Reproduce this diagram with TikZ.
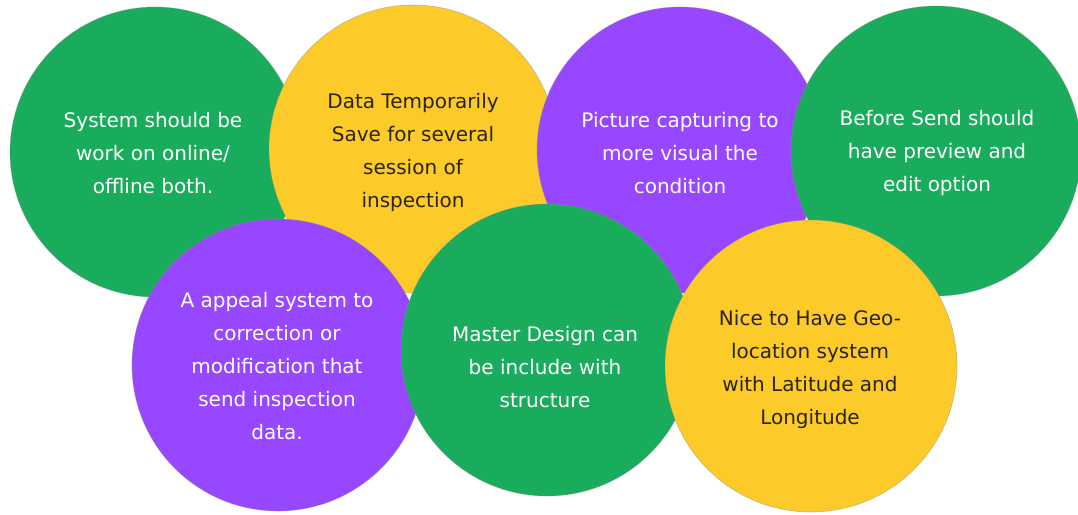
\documentclass[tikz,border=0pt]{standalone}
\usepackage{fontspec}
\setmainfont{DejaVu Sans}
\definecolor{cgreen}{HTML}{18AC5C}
\definecolor{cyellow}{HTML}{FDCB29}
\definecolor{cpurple}{HTML}{9747FF}
\definecolor{cdark}{HTML}{2A2414}
\tikzset{
  bubble/.style={circle, inner sep=0pt, draw=black!45, draw opacity=0.5, line width=0.6pt},
  gbub/.style={bubble, fill=cgreen},
  ybub/.style={bubble, fill=cyellow},
  pbub/.style={bubble, fill=cpurple},
  btext/.style={align=center, inner sep=0pt, font=\fontsize{20}{33}\selectfont},
  wtext/.style={btext, text=white},
  dtext/.style={btext, text=cdark}
}
\begin{document}
\begin{tikzpicture}[x=1pt,y=-1pt]
\useasboundingbox (0,0) rectangle (1078,514);
\begin{scope}
\clip (0,0) rectangle (1078,514);
\node[gbub, minimum size=290pt] (c1) at (155,152) {};
\node[wtext] (t1) at (153,153) {System should be\\work on online/\\offline both.};
\node[ybub, minimum size=288pt] (c2) at (413,149) {};
\node[dtext] (t2) at (413,152) {Data Temporarily\\Save for several\\session of\\inspection};
\node[pbub, minimum size=286pt] (c3) at (680,150) {};
\node[wtext] (t3) at (680,153) {Picture capturing to\\more visual the\\condition};
\node[gbub, minimum size=290pt] (c4) at (936,151) {};
\node[wtext] (t4) at (937,153) {Before Send should\\have preview and\\edit option};
\node[pbub, minimum size=292pt] (c5) at (278,365) {};
\node[wtext] (t5) at (277,366) {A appeal system to\\correction or\\modification that\\send inspection\\data.};
\node[gbub, minimum size=292pt] (c6) at (547,350) {};
\node[wtext] (t6) at (545,367) {Master Design can\\be include with\\structure};
\node[ybub, minimum size=292pt] (c7) at (811,366) {};
\node[dtext] (t7) at (810,369) {Nice to Have Geo-\\location system\\with Latitude and\\Longitude};
\end{scope}
\end{tikzpicture}
\end{document}
